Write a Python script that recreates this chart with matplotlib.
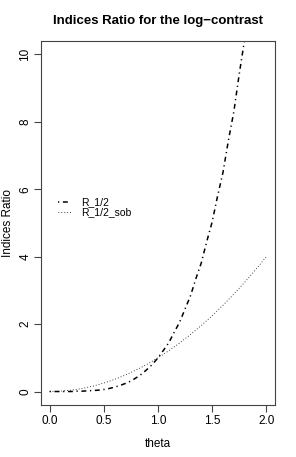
import matplotlib
matplotlib.use('Agg')
import matplotlib.pyplot as plt

plt.rcParams['font.family'] = ['Liberation Sans', 'DejaVu Sans']

# ---- data ------------------------------------------------------------
theta = [0.00, 0.05, 0.10, 0.15, 0.20, 0.25, 0.30, 0.35, 0.40, 0.45,
         0.50, 0.55, 0.60, 0.65, 0.70, 0.75, 0.80, 0.85, 0.90, 0.95,
         1.00, 1.05, 1.10, 1.15, 1.20, 1.25, 1.30, 1.35, 1.40, 1.45,
         1.50, 1.55, 1.60, 1.65, 1.70, 1.75, 1.80, 1.85, 1.90, 1.95, 2.00]
ratio_r12 = [0.00, 0.00, 0.00, 0.00, 0.00, 0.01, 0.01, 0.02, 0.03, 0.04,
             0.06, 0.09, 0.13, 0.18, 0.24, 0.31, 0.41, 0.52, 0.66, 0.81,
             1.00, 1.22, 1.45, 1.76, 2.06, 2.45, 2.84, 3.35, 3.82, 4.45,
             5.03, 5.80, 6.50, 7.45, 8.30, 9.42, 10.45, 11.70, 13.05, 14.45, 16.00]

theta_sob = [0.0, 0.1, 0.2, 0.3, 0.4, 0.5, 0.6, 0.7, 0.8, 0.9, 1.0,
             1.1, 1.2, 1.3, 1.4, 1.5, 1.6, 1.7, 1.8, 1.9, 2.0]
ratio_sob = [0.00, 0.01, 0.04, 0.09, 0.16, 0.25, 0.36, 0.49, 0.64, 0.81, 1.00,
             1.21, 1.44, 1.69, 1.96, 2.25, 2.56, 2.89, 3.24, 3.61, 4.00]

x_ticks = [0.0, 0.5, 1.0, 1.5, 2.0]
y_ticks = [0, 2, 4, 6, 8, 10]

# ---- figure -----------------------------------------------------------
fig = plt.figure(figsize=(2.96, 4.57), dpi=100)
ax = fig.add_axes([0.1385, 0.1138, 0.7905, 0.7965])

ax.plot(theta, ratio_r12, color='black', linewidth=1.1,
        linestyle=(0, (0.8, 2.4, 3.2, 2.4)), label='R_1/2')
ax.plot(theta_sob, ratio_sob, color='black', linewidth=0.6,
        linestyle=(0, (1, 2.5)), label='R_1/2_sob')

ax.set_xlim(-0.08, 2.08)
ax.set_ylim(-0.4, 10.4)
ax.set_xticks(x_ticks)
ax.set_xticklabels(['0.0', '0.5', '1.0', '1.5', '2.0'])
ax.set_yticks(y_ticks)
ax.set_yticklabels([str(v) for v in y_ticks], rotation=90, va='center')

for s in ax.spines.values():
    s.set_linewidth(0.8)
    s.set_color('#444444')
ax.tick_params(direction='out', length=5, width=0.8, color='#444444',
               labelsize=8.5, pad=2)

ax.set_title('Indices Ratio for the log\u2212contrast', fontsize=9.5,
             fontweight='bold', pad=12)
ax.set_xlabel('theta', fontsize=8.5)
ax.set_ylabel('Indices Ratio', fontsize=8.5, va='center')
ax.xaxis.set_label_coords(0.5, -0.09)
ax.yaxis.set_label_coords(-0.141, 0.5)

ax.legend(loc='upper left', bbox_to_anchor=(0.04, 0.59), frameon=False,
          fontsize=7.5, handlelength=1.3, handletextpad=1.0,
          labelspacing=0.0, borderpad=0.2)

fig.savefig('out.png', dpi=100)
